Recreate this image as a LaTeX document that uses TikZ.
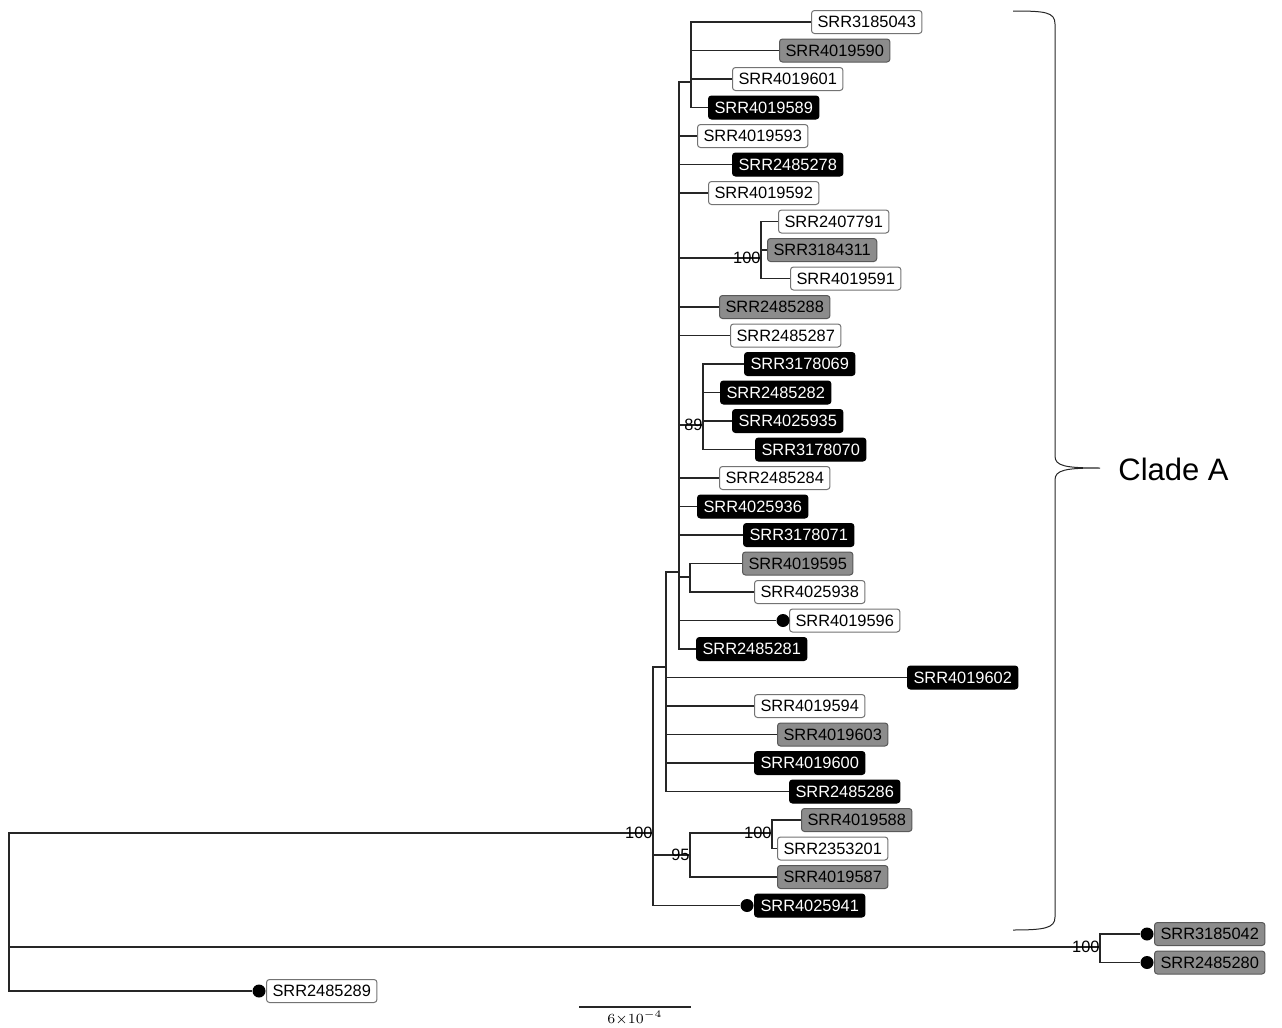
\documentclass[tikz,border=0pt]{standalone}
\usepackage{fontspec}
\setmainfont{Liberation Sans}
\usepackage{tikz}
\usetikzlibrary{calc}

\begin{document}
\begin{tikzpicture}[x=0.5pt,y=-0.5pt,
	leaf/.style={anchor=west, rounded corners=1.5pt, minimum height=11.5pt, inner xsep=3pt, inner ysep=0pt, font=\fontsize{8.2}{9}\selectfont, line width=0.5pt},
	wbox/.style={leaf, draw=black!55, fill=white},
	gbox/.style={leaf, draw=black!65, fill=black!45},
	kbox/.style={leaf, draw=black, fill=black, text=white},
	dot/.style={circle, fill=black, inner sep=0pt, minimum size=6.5pt},
	support/.style={anchor=east, inner sep=0pt, font=\fontsize{8.2}{9}\selectfont},
	branch/.style={line width=0.8pt, black!85}]
	\useasboundingbox (0,0) rectangle (1282,1028);
	% Tips, one per row
	\foreach \x/\row/\kind/\name in {811/0/wbox/SRR3185043, 779/1/gbox/SRR4019590, 732/2/wbox/SRR4019601,
		708/3/kbox/SRR4019589, 697/4/wbox/SRR4019593, 732/5/kbox/SRR2485278, 708/6/wbox/SRR4019592,
		778/7/wbox/SRR2407791, 767/8/gbox/SRR3184311, 790/9/wbox/SRR4019591, 719/10/gbox/SRR2485288,
		730/11/wbox/SRR2485287, 744/12/kbox/SRR3178069, 720/13/kbox/SRR2485282, 732/14/kbox/SRR4025935,
		755/15/kbox/SRR3178070, 719/16/wbox/SRR2485284, 697/17/kbox/SRR4025936, 743/18/kbox/SRR3178071,
		742/19/gbox/SRR4019595, 754/20/wbox/SRR4025938, 789/21/wbox/SRR4019596, 696/22/kbox/SRR2485281,
		907/23/kbox/SRR4019602, 754/24/wbox/SRR4019594, 777/25/gbox/SRR4019603, 754/26/kbox/SRR4019600,
		789/27/kbox/SRR2485286, 801/28/gbox/SRR4019588, 777/29/wbox/SRR2353201, 777/30/gbox/SRR4019587,
		754/31/kbox/SRR4025941, 1154/32/gbox/SRR3185042, 1154/33/gbox/SRR2485280, 266/34/wbox/SRR2485289}{
		\node[\kind] (t\row) at (\x,{22+28.5*\row}) {\name};
	}
	\foreach \x/\row in {783/21, 747/31, 1147/32, 1147/33, 259/34}{
		\node[dot] (d\row) at (\x,{22+28.5*\row}) {};
	}
	% Inner nodes
	\coordinate (root) at (9,900);
	\coordinate (cA) at (653,833);
	\coordinate (out) at (1100,947);
	\coordinate (nB) at (666,667);
	\coordinate (nC) at (679,572);
	\coordinate (n1) at (691,82);
	\coordinate (n7) at (761,258);
	\coordinate (n12) at (703,425);
	\coordinate (n19) at (690,577);
	\coordinate (n95) at (690,855);
	\coordinate (n28) at (772,833);
	% Branches
	\draw[branch] (root) |- (cA) (root) |- (out) (root) |- (d34);
	\draw[branch] (cA) |- (nB) (cA) |- (n95) (cA) |- (d31);
	\draw[branch] (nB) |- (nC);
	\foreach \r in {23,...,27} \draw[branch] (nB) |- (t\r.west);
	\draw[branch] (nC) |- (n1) (nC) |- (n7) (nC) |- (n12) (nC) |- (n19) (nC) |- (d21);
	\foreach \r in {4,5,6,10,11,16,17,18,22} \draw[branch] (nC) |- (t\r.west);
	\foreach \r in {0,...,3} \draw[branch] (n1) |- (t\r.west);
	\foreach \r in {7,8,9} \draw[branch] (n7) |- (t\r.west);
	\foreach \r in {12,...,15} \draw[branch] (n12) |- (t\r.west);
	\foreach \r in {19,20} \draw[branch] (n19) |- (t\r.west);
	\draw[branch] (n95) |- (n28) (n95) |- (t30.west);
	\foreach \r in {28,29} \draw[branch] (n28) |- (t\r.west);
	\draw[branch] (out) |- (d32) (out) |- (d33);
	% Supports
	\node[support] (s1) at (cA) {100};
	\node[support] (s2) at (out) {100};
	\node[support] (s3) at (n7) {100};
	\node[support] (s4) at (n12) {89};
	\node[support] (s5) at (n95) {95};
	\node[support] (s6) at (n28) {100};
	% Clade brace
	\draw[line width=0.5pt, black!85] (1013,11) .. controls (1045,11) and (1055,12) .. (1055,24) -- (1055,456)
		.. controls (1055,466) and (1065,468) .. (1100,468) .. controls (1065,468) and (1055,470) .. (1055,480)
		-- (1055,917) .. controls (1055,928) and (1045,930) .. (1013,930);
	\node[anchor=west, inner sep=0pt, font=\fontsize{15.5}{17}\selectfont] (clade) at (1118,469) {Clade A};
	% Scale bar
	\coordinate (sb1) at (579,1007);
	\coordinate (sb2) at (691,1007);
	\draw[line width=0.6pt, black!85] (sb1) -- (sb2);
	\node[below=1.5pt, inner sep=0pt, font=\fontsize{7.5}{8}\selectfont] (sbl) at ($(sb1)!0.5!(sb2)$) {$6{\times}10^{-4}$};
\end{tikzpicture}
\end{document}
